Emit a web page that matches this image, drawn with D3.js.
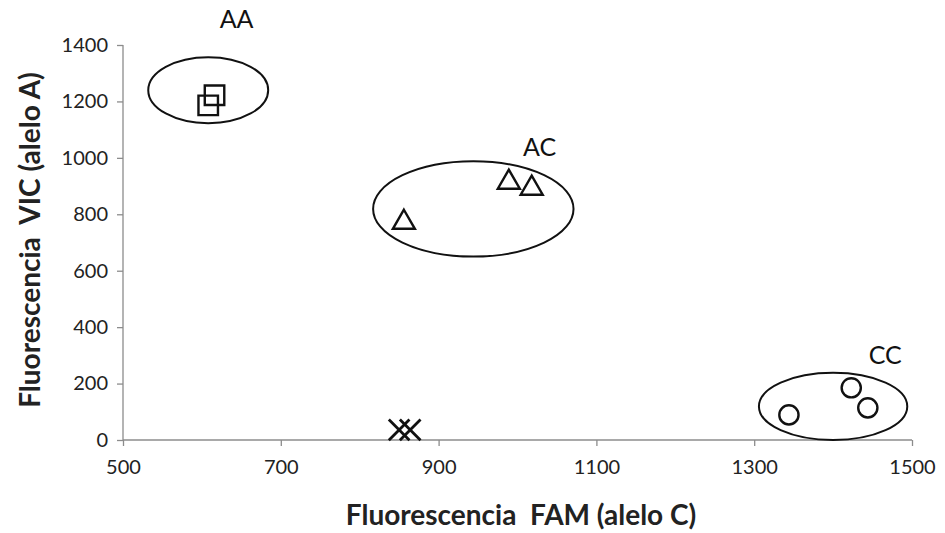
<!DOCTYPE html>
<html><head><meta charset="utf-8">
<script src="https://cdn.jsdelivr.net/npm/d3@7"></script>
<style>body{margin:0;background:#fff}svg{display:block}</style>
</head><body>
<svg id="c" width="945" height="533"></svg>
<script>
const xTicks = [500, 700, 900, 1100, 1300, 1500];
const yTicks = [0, 200, 400, 600, 800, 1000, 1200, 1400];
const groupAA = [[616, 1222], [608, 1186]];
const groupAC = [[856, 771], [989, 913], [1018, 892]];
const groupCC = [[1344, 89], [1423, 185], [1444, 114]];
const groupNTC = [[850, 36], [864, 36]];
const clusterNames = ["AA", "AC", "CC"];
const clusterCenters = [[608, 1240], [944, 819], [1400, 119]];
const clusterRadii = [[76, 117], [127, 169], [94, 119]];
const clusterLabelPos = [[644, 1460], [1028, 1006], [1466, 270]];

const svg = d3.select("#c");
const x = d3.scaleLinear().domain([500, 1500]).range([123, 912]);
const y = d3.scaleLinear().domain([0, 1400]).range([440, 45]);
const font = "Lato, 'Open Sans', sans-serif";

const xa = svg.append("g").attr("transform", "translate(0,440)")
  .call(d3.axisBottom(x).tickValues(xTicks).tickSize(6).tickPadding(14).tickFormat(d3.format("d")));
const ya = svg.append("g").attr("transform", "translate(123,0)")
  .call(d3.axisLeft(y).tickValues(yTicks).tickSize(6).tickPadding(9).tickFormat(d3.format("d")));
[xa, ya].forEach(a => {
  a.selectAll("path,line").attr("stroke", "#8c8c8c").attr("stroke-width", 1.3);
  a.selectAll("text").attr("fill", "#222").style("font-family", font).style("font-size", "20px");
});
ya.select(".domain").attr("d", "M0,45V440");
xa.select(".domain").attr("d", "M123,0H912");

svg.append("text").attr("x", 521).attr("y", 525).attr("text-anchor", "middle")
  .style("font-family", font).style("font-size", "28px").style("font-weight", "bold").attr("fill", "#222")
  .style("white-space", "pre")
  .text("Fluorescencia  FAM (alelo C)");
svg.append("text").attr("transform", "translate(40,240) rotate(-90)").attr("text-anchor", "middle")
  .style("font-family", font).style("font-size", "28px").style("font-weight", "bold").attr("fill", "#222")
  .style("white-space", "pre")
  .text("Fluorescencia  VIC (alelo A)");

// cluster ellipses
clusterCenters.forEach((c, i) => {
  svg.append("ellipse")
    .attr("cx", x(c[0])).attr("cy", y(c[1]))
    .attr("rx", x(c[0] + clusterRadii[i][0]) - x(c[0]))
    .attr("ry", y(c[1]) - y(c[1] + clusterRadii[i][1]))
    .attr("fill", "none").attr("stroke", "#111").attr("stroke-width", 2);
  svg.append("text").attr("x", x(clusterLabelPos[i][0])).attr("y", y(clusterLabelPos[i][1]))
    .attr("text-anchor", "middle").style("font-family", font).style("font-size", "25px").attr("fill", "#111")
    .text(clusterNames[i]);
});

const mk = (data, type, size) => svg.append("g").selectAll("path").data(data).join("path")
  .attr("d", d3.symbol().type(type).size(size))
  .attr("transform", d => `translate(${x(d[0])},${y(d[1])})`)
  .attr("fill", "none").attr("stroke", "#111").attr("stroke-width", 2.4);

mk(groupAA, d3.symbolSquare, 380);
mk(groupAC, d3.symbolTriangle, 210);
mk(groupCC, d3.symbolCircle, 290);
mk(groupNTC, d3.symbolX, 280).attr("stroke-width", 2.8);
</script>
</body></html>
